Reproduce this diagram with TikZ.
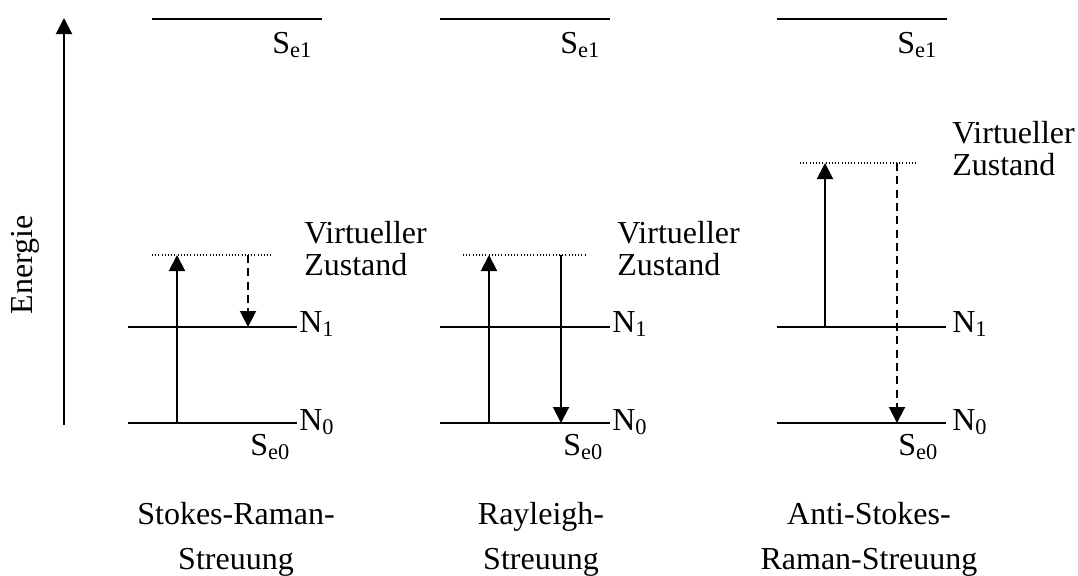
\documentclass[tikz,border=0pt]{standalone}
\usepackage{fontspec}
\setmainfont{Liberation Serif}
\usetikzlibrary{arrows.meta}
\begin{document}
\begin{tikzpicture}[x=0.75pt,y=-0.75pt,
  level/.style={line width=1.5pt},
  virt/.style={line width=0.8pt,dash pattern=on 0.8pt off 1.6pt},
  up/.style={line width=1.5pt,-{Triangle[length=12pt,width=12pt]}},
  dn/.style={line width=1.5pt,-{Triangle[length=12pt,width=12pt]}},
  dashdn/.style={line width=1.5pt,dash pattern=on 6pt off 4pt,-{Triangle[length=12pt,width=12pt]}},
  lbl/.style={anchor=base west,inner sep=0pt,font=\fontsize{24}{24}\selectfont},
  captxt/.style={anchor=base,inner sep=0pt,font=\fontsize{24}{24}\selectfont}]
\useasboundingbox (0,0) rectangle (1078,575);
% energy axis
\coordinate (ea) at (64,425);
\coordinate (eb) at (64,18);
\draw[up] (ea) -- (eb);
\node[rotate=90,inner sep=0pt,font=\fontsize{24}{24}\selectfont] (en) at (25,265) {Energie};

% ---- panel 1: Stokes ----
\coordinate (a1l) at (152,19); \coordinate (a1r) at (322,19);
\draw[level] (a1l) -- (a1r);
\node[lbl] (se1a) at (272,53) {S\textsubscript{e1}};
\coordinate (an1l) at (128,327); \coordinate (an1r) at (297,327);
\coordinate (an0l) at (128,423); \coordinate (an0r) at (297,423);
\draw[level] (an1l) -- (an1r);
\draw[level] (an0l) -- (an0r);
\coordinate (avl) at (152,255); \coordinate (avr) at (272,255);
\draw[virt] (avl) -- (avr);
\coordinate (aup0) at (177,423); \coordinate (aup1) at (177,255);
\draw[up] (aup0) -- (aup1);
\coordinate (adn0) at (248,255); \coordinate (adn1) at (248,327);
\draw[dashdn] (adn0) -- (adn1);
\node[lbl] (n1a) at (299,332) {N\textsubscript{1}};
\node[lbl] (n0a) at (299,430) {N\textsubscript{0}};
\node[lbl] (se0a) at (250,455) {S\textsubscript{e0}};
\node[lbl] (va1) at (304,243) {Virtueller};
\node[lbl] (va2) at (304,275) {Zustand};
\node[captxt] (ca1) at (236,524) {Stokes-Raman-};
\node[captxt] (ca2) at (236,569) {Streuung};

% ---- panel 2: Rayleigh ----
\coordinate (b1l) at (440,19); \coordinate (b1r) at (610,19);
\draw[level] (b1l) -- (b1r);
\node[lbl] (se1b) at (560,53) {S\textsubscript{e1}};
\coordinate (bn1l) at (440,327); \coordinate (bn1r) at (610,327);
\coordinate (bn0l) at (440,423); \coordinate (bn0r) at (610,423);
\draw[level] (bn1l) -- (bn1r);
\draw[level] (bn0l) -- (bn0r);
\coordinate (bvl) at (463,255); \coordinate (bvr) at (587,255);
\draw[virt] (bvl) -- (bvr);
\coordinate (bup0) at (489,423); \coordinate (bup1) at (489,255);
\draw[up] (bup0) -- (bup1);
\coordinate (bdn0) at (561,255); \coordinate (bdn1) at (561,423);
\draw[dn] (bdn0) -- (bdn1);
\node[lbl] (n1b) at (612,332) {N\textsubscript{1}};
\node[lbl] (n0b) at (612,430) {N\textsubscript{0}};
\node[lbl] (se0b) at (563,455) {S\textsubscript{e0}};
\node[lbl] (vb1) at (617,243) {Virtueller};
\node[lbl] (vb2) at (617,275) {Zustand};
\node[captxt] (cb1) at (541,524) {Rayleigh-};
\node[captxt] (cb2) at (541,569) {Streuung};

% ---- panel 3: Anti-Stokes ----
\coordinate (c1l) at (777,19); \coordinate (c1r) at (947,19);
\draw[level] (c1l) -- (c1r);
\node[lbl] (se1c) at (897,53) {S\textsubscript{e1}};
\coordinate (cn1l) at (777,327); \coordinate (cn1r) at (946,327);
\coordinate (cn0l) at (777,423); \coordinate (cn0r) at (946,423);
\draw[level] (cn1l) -- (cn1r);
\draw[level] (cn0l) -- (cn0r);
\coordinate (cvl) at (800,163); \coordinate (cvr) at (918,163);
\draw[virt] (cvl) -- (cvr);
\coordinate (cup0) at (825,327); \coordinate (cup1) at (825,163);
\draw[up] (cup0) -- (cup1);
\coordinate (cdn0) at (897,163); \coordinate (cdn1) at (897,423);
\draw[dashdn] (cdn0) -- (cdn1);
\node[lbl] (n1c) at (952,332) {N\textsubscript{1}};
\node[lbl] (n0c) at (952,430) {N\textsubscript{0}};
\node[lbl] (se0c) at (898,455) {S\textsubscript{e0}};
\node[lbl] (vc1) at (952,143) {Virtueller};
\node[lbl] (vc2) at (952,175) {Zustand};
\node[captxt] (cc1) at (869,524) {Anti-Stokes-};
\node[captxt] (cc2) at (869,569) {Raman-Streuung};
\end{tikzpicture}
\end{document}
